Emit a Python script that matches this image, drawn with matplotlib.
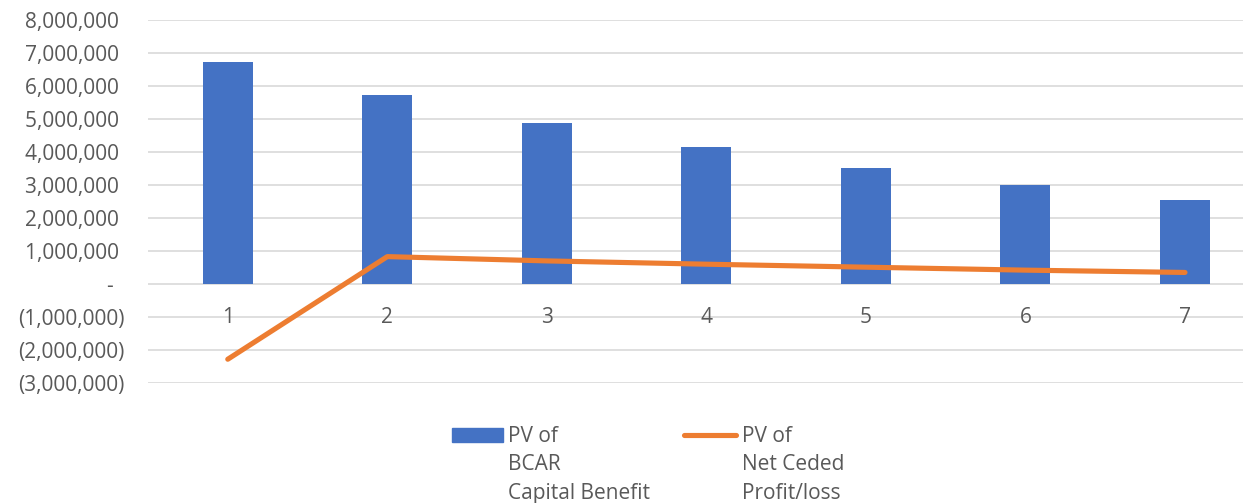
import numpy as np
import matplotlib.pyplot as plt
from matplotlib.ticker import FuncFormatter
from matplotlib.patches import Rectangle
from matplotlib.lines import Line2D

years = [1, 2, 3, 4, 5, 6, 7]
bcar_capital_benefit = [6730000, 5730000, 4870000, 4140000, 3520000, 2990000, 2550000]
net_ceded_profit = [-2280000, 830000, 700000, 600000, 510000, 420000, 350000]
bar_label = "PV of\nBCAR\nCapital Benefit"
line_label = "PV of\nNet Ceded\nProfit/loss"

blue = "#4472C4"
orange = "#ED7D31"
text_grey = "#595959"
FS = 15

plt.rcParams['font.family'] = ['Open Sans', 'DejaVu Sans']


def excel_fmt(v, pos):
    # Excel accounting style: positives padded for the ")", zero shown as a dash
    if abs(v) < 1:
        return "-  "
    if v < 0:
        return "({:,.0f})".format(-v)
    return "{:,.0f} ".format(v)


fig = plt.figure(figsize=(12.43, 5.03), dpi=100)
W, H = 1243, 503
ax = fig.add_axes([148 / W, 1 - 383 / H, (W - 148) / W, (383 - 20) / H])

x = np.array(years)
ax.bar(x, bcar_capital_benefit, width=0.314, color=blue, zorder=2)
ax.plot(x, net_ceded_profit, color=orange, lw=3.7, solid_capstyle='round',
        solid_joinstyle='round', zorder=3)

ax.set_ylim(-3000000, 8000000)
ax.set_yticks(np.arange(-3000000, 8000001, 1000000))
ax.yaxis.set_major_formatter(FuncFormatter(excel_fmt))
ax.set_xlim(0.5, 7 + (W - 1185) / 159.5)
ax.set_xticks([])
ax.grid(axis='y', color="#D9D9D9", lw=1.2, zorder=0)
ax.tick_params(axis='y', length=0, pad=17, labelsize=FS, labelcolor=text_grey)
for s in ax.spines.values():
    s.set_visible(False)

# category labels sit just below the zero axis, as in Excel
for xi in years:
    ax.annotate(str(xi), xy=(xi, 0), xytext=(0, -34), textcoords='offset pixels',
                ha='center', va='center', fontsize=FS, color=text_grey)

# legend drawn by hand so the key lines up with the first text line
fig.patches.append(Rectangle((452 / W, 1 - 442 / H), 51 / W, 14 / H,
                             transform=fig.transFigure, color=blue))
fig.lines.append(Line2D([684 / W, 736 / W], [1 - 435 / H, 1 - 435 / H],
                        transform=fig.transFigure, color=orange, lw=3.7,
                        solid_capstyle='round'))
for x0, label in [(508, bar_label), (742, line_label)]:
    for i, line in enumerate(label.split("\n")):
        fig.text(x0 / W, 1 - (442 + 28.5 * i) / H, line, ha='left', va='baseline',
                 fontsize=FS, color=text_grey)

fig.savefig("out.png", dpi=100)
